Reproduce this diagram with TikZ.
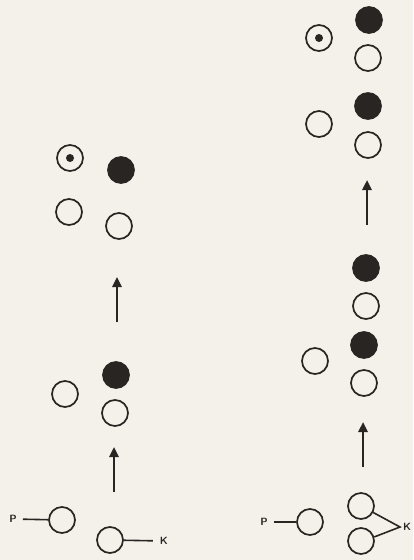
\documentclass[tikz,border=0pt]{standalone}
\usetikzlibrary{arrows.meta}
\definecolor{paper}{RGB}{243,241,234}
\definecolor{ink}{RGB}{40,37,35}
\tikzset{
  ring/.style={circle, draw=ink, line width=1.7pt, minimum size=26pt, inner sep=0pt},
  ball/.style={ring, fill=ink},
  dotring/.style={ring, path picture={\fill[ink] (path picture bounding box.center) circle (4pt);}},
  lbl/.style={font=\sffamily\bfseries\fontsize{10.5}{10.5}\selectfont, text=ink, inner sep=1pt},
  upar/.style={draw=ink, line width=2.4pt, -{Triangle[length=10pt,width=9pt]}},
  tie/.style={draw=ink, line width=1.6pt}
}
\begin{document}
\begin{tikzpicture}[x=1pt,y=-1pt]
\fill[paper] (0,0) rectangle (413,560);
\useasboundingbox (0,0) rectangle (413,560);
% left column
\node[dotring] (a1) at (70,158) {};
\node[ball] (a2) at (121,170) {};
\node[ring] (a3) at (69,212) {};
\node[ring] (a4) at (119,226) {};
\coordinate (u1s) at (117,322);
\coordinate (u1e) at (117,277);
\draw[upar] (u1s) -- (u1e);
\node[ball] (b1) at (116,375) {};
\node[ring] (b2) at (65,394) {};
\node[ring] (b3) at (115,413) {};
\coordinate (u2s) at (114,492);
\coordinate (u2e) at (114,447);
\draw[upar] (u2s) -- (u2e);
\node[ring] (c1) at (62,520) {};
\node[ring] (c2) at (110,540) {};
\node[lbl] (P1) at (13,519) {P};
\node[lbl] (K1) at (164,541) {K};
\draw[tie, shorten <=5pt] (P1) -- (c1);
\draw[tie, shorten >=6pt] (c2) -- (K1);
% right column
\node[ball] (d1) at (369,20) {};
\node[dotring] (d2) at (319,38) {};
\node[ring] (d3) at (368,58) {};
\node[ball] (e1) at (368,106) {};
\node[ring] (e2) at (319,124) {};
\node[ring] (e3) at (368,145) {};
\coordinate (u3s) at (367,225);
\coordinate (u3e) at (367,180);
\draw[upar] (u3s) -- (u3e);
\node[ball] (f1) at (366,268) {};
\node[ring] (f2) at (366,306) {};
\node[ball] (f3) at (364,345) {};
\node[ring] (f4) at (315,361) {};
\node[ring] (f5) at (364,383) {};
\coordinate (u4s) at (363,467);
\coordinate (u4e) at (363,422);
\draw[upar] (u4s) -- (u4e);
\node[ring] (g1) at (310,522) {};
\node[ring] (g2) at (361,506) {};
\node[ring] (g3) at (361,541) {};
\node[lbl] (P2) at (264,522) {P};
\coordinate (kp) at (400,527);
\node[lbl, anchor=west] (K2) at (402,527) {K};
\draw[tie, shorten <=5pt] (P2) -- (g1);
\draw[tie] (g2.-28) -- (kp) -- (g3.17);
\end{tikzpicture}
\end{document}
